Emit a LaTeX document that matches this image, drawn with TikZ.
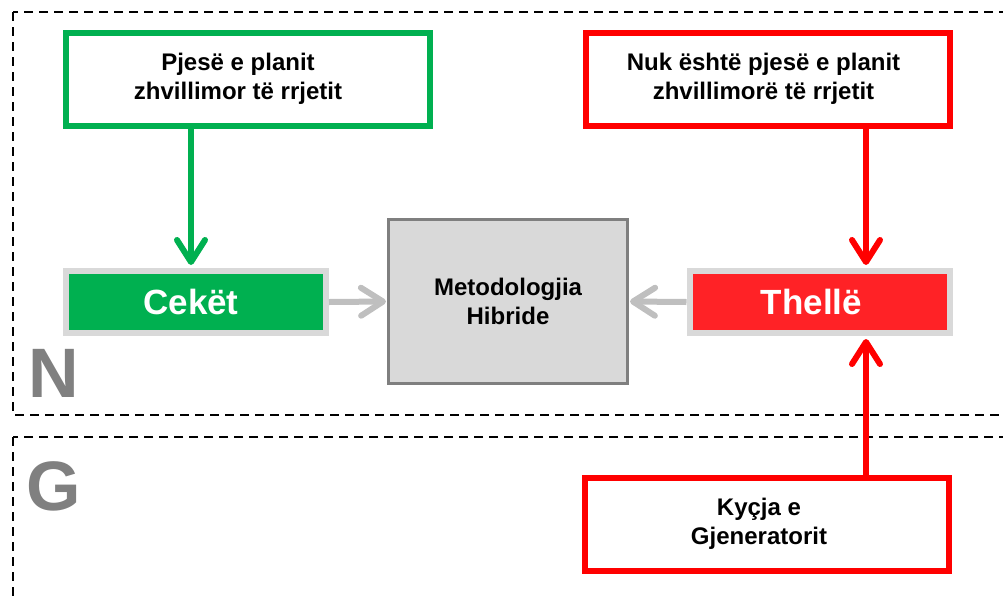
\documentclass[tikz,border=0pt]{standalone}
\usepackage{fontspec}
\setmainfont{Liberation Sans}
\usetikzlibrary{arrows.meta}
\definecolor{cgreen}{HTML}{00B050}
\definecolor{cred}{HTML}{FF0000}
\definecolor{cfill}{HTML}{FF2226}
\definecolor{lgray}{HTML}{D9D9D9}
\definecolor{dgray}{HTML}{7F7F7F}
\definecolor{agray}{HTML}{BFBFBF}
\definecolor{lblgray}{HTML}{808080}
\newcommand\shiftedtext[3]{\hspace*{#1}\raisebox{#2}{\begin{tabular}{@{}c@{}}#3\end{tabular}}}
\begin{document}
\begin{tikzpicture}[x=1pt,y=-1pt,
  txt/.style={font=\fontsize{24}{29}\selectfont\bfseries, align=center, text=black},
  outbox/.style={txt, draw, line width=6pt, fill=white, minimum width=364pt, minimum height=93pt, inner sep=0pt},
  kind/.style={draw=lgray, line width=6pt, minimum width=260pt, minimum height=62pt, inner sep=0pt,
     font=\fontsize{35}{40}\selectfont\bfseries, text=white},
  midbox/.style={txt, draw=dgray, fill=lgray, line width=3pt, minimum width=239pt, minimum height=164pt, inner sep=0pt},
  region/.style={draw=black, line width=2.2pt, dash pattern=on 9pt off 6pt},
  flow/.style={line width=6pt, -{Straight Barb[length=22pt,width=28pt,line cap=round,line join=round]}},
  letter/.style={font=\fontsize{70}{80}\selectfont\bfseries, text=lblgray, anchor=base west, inner sep=0pt}
]
\useasboundingbox (0,0) rectangle (1003,600);
\begin{scope}
  \clip (0,0) rectangle (1003,600);
  \draw[region] (13,12) rectangle (1015,415);
  \draw[region] (13,437) rectangle (1015,615);
\end{scope}

\node[letter] (N) at (28,397) {N};
\node[letter] (G) at (26,510) {G};

\node[outbox, draw=cgreen] (gtop) at (248,79.5) {\shiftedtext{-20pt}{0pt}{Pjesë e planit\\zhvillimor të rrjetit}};
\node[outbox, draw=cred] (rtop) at (767.5,79.5) {\shiftedtext{-8pt}{5pt}{Nuk është pjesë e planit\\zhvillimorë të rrjetit}};
\node[outbox, draw=cred] (rbot) at (767,524.5) {\shiftedtext{-16pt}{3pt}{Kyçja e\\Gjeneratorit}};

\node[kind, fill=cgreen] (cek) at (196,302) {\hspace*{-10pt}Cekët};
\node[kind, fill=cfill] (thelle) at (819.5,302) {\hspace*{-16pt}Thellë};
\node[midbox] (mid) at (508,301.5) {Metodologjia\\Hibride};

\coordinate (gx) at (191,0);
\coordinate (rx) at (866,0);

\draw[flow, cgreen, shorten >=3pt] (gtop.south -| gx) -- (cek.north -| gx);
\draw[flow, cred, shorten >=3pt] (rtop.south -| rx) -- (thelle.north -| rx);
\draw[flow, cred, shorten >=3pt] (rbot.north -| rx) -- (thelle.south -| rx);
\draw[flow, agray, shorten >=1pt] (cek.east) -- (mid.west);
\draw[flow, agray, shorten >=1pt] (thelle.west) -- (mid.east);
\end{tikzpicture}
\end{document}
